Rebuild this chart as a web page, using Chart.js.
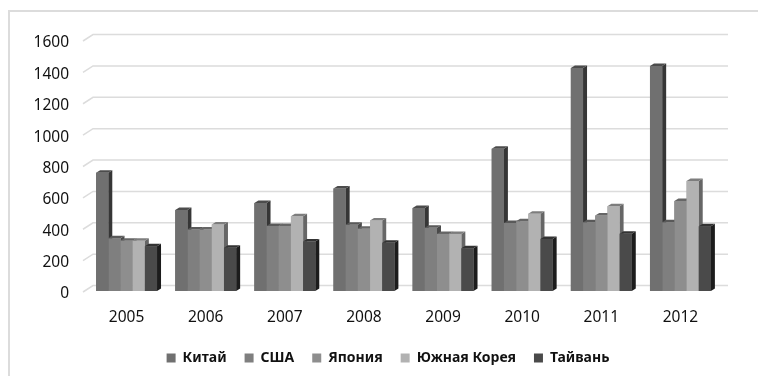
<!DOCTYPE html>
<html>
<head>
<meta charset="utf-8">
<script src="https://cdn.jsdelivr.net/npm/chart.js@4"></script>
<style>
  html, body { margin: 0; padding: 0; background: #fff; overflow: hidden; }
  #frame { position: absolute; left: 8px; top: 10px; right: 0; bottom: 0; border-left: 2px solid #dcdcdc; border-top: 2px solid #dcdcdc; }
  #box { position: absolute; left: 0; top: 0; width: 758px; height: 376px; }
</style>
</head>
<body>
<div id="frame"></div>
<div id="box"><canvas id="c" width="758" height="376"></canvas></div>
<script>
const years = ['2005', '2006', '2007', '2008', '2009', '2010', '2011', '2012'];
const china = [754, 516, 561, 654, 529, 907, 1421, 1434];
const usa = [336, 392, 414, 422, 403, 433, 439, 439];
const japan = [321, 392, 414, 397, 364, 444, 482, 574];
const korea = [321, 424, 476, 450, 364, 493, 540, 701];
const taiwan = [285, 276, 315, 307, 272, 332, 365, 412];

const seriesNames = ['Китай', 'США', 'Япония', 'Южная Корея', 'Тайвань'];
const seriesValues = [china, usa, japan, korea, taiwan];
const frontColors = ['#707070', '#7f7f7f', '#8e8e8e', '#b2b2b2', '#4a4a4a'];
const topColors = ['#4c4c4c', '#595959', '#666666', '#7d7d7d', '#333333'];
const sideColors = ['#363636', '#4a4a4a', '#555555', '#666666', '#1c1c1c'];

// depth of a bar and of the back wall, in px
const barDx = 4, barDy = 2.5;
const wallDx = 10, wallDy = 6.5;

function poly(ctx, pts, color) {
    ctx.fillStyle = color;
    ctx.beginPath();
    pts.forEach((p, i) => i ? ctx.lineTo(p[0], p[1]) : ctx.moveTo(p[0], p[1]));
    ctx.closePath();
    ctx.fill();
}

// slanted floor ticks and the gridlines on the back wall
const wallGrid = {
    id: 'wallGrid',
    beforeDatasetsDraw(chart) {
        const { ctx, scales } = chart;
        const y = scales.y;
        ctx.save();
        ctx.strokeStyle = '#dcdcdc';
        ctx.lineWidth = 1.5;
        y.ticks.forEach(t => {
            const py = y.getPixelForValue(t.value) + 1;
            ctx.beginPath();
            ctx.moveTo(83, py);
            ctx.lineTo(83 + wallDx, py - wallDy);
            ctx.lineTo(728, py - wallDy);
            ctx.stroke();
        });
        ctx.restore();
    },
    afterLayout(chart) {
        // legend sits a little right of the canvas centre
        chart.legend.left += 28;
        chart.legend.right += 28;
    }
};

// extruded sides and tops; each front is repainted so the next bar covers the previous side
const bars3d = {
    id: 'bars3d',
    afterDatasetsDraw(chart) {
        const ctx = chart.ctx;
        years.forEach((yr, j) => {
            seriesValues.forEach((vals, i) => {
                const bar = chart.getDatasetMeta(i).data[j];
                const l = bar.x - bar.width / 2, r = bar.x + bar.width / 2;
                const t = bar.y, b = bar.base;
                poly(ctx, [[r, t], [r + barDx, t - barDy], [r + barDx, b - barDy], [r, b]], sideColors[i]);
                poly(ctx, [[l, t], [l + barDx, t - barDy], [r + barDx, t - barDy], [r, t]], topColors[i]);
                bar.draw(ctx);
            });
        });
    }
};

new Chart(document.getElementById('c'), {
    type: 'bar',
    data: {
        labels: years,
        datasets: seriesNames.map((name, i) => ({
            label: name,
            data: seriesValues[i],
            backgroundColor: frontColors[i],
            borderWidth: 0,
            barPercentage: 1,
            categoryPercentage: 0.77
        }))
    },
    options: {
        responsive: false,
        animation: false,
        layout: { padding: { left: 0, right: 38, top: 40, bottom: 1 } },
        plugins: {
            tooltip: { enabled: false },
            legend: {
                position: 'bottom',
                labels: {
                    boxWidth: 9,
                    boxHeight: 9,
                    padding: 18,
                    color: '#111',
                    font: { family: '"Noto Sans"', size: 14, weight: 'bold' }
                }
            }
        },
        scales: {
            x: {
                grid: { display: false },
                border: { display: false },
                ticks: { color: '#111', padding: 9, maxRotation: 0, font: { family: '"Noto Sans"', size: 15.5 } },
                afterFit(s) { s.height = 42; }
            },
            y: {
                min: 0,
                max: 1600,
                grid: { display: false },
                border: { display: false },
                ticks: { stepSize: 200, color: '#111', padding: 10, labelOffset: 3, callback: v => String(v), font: { family: '"Noto Sans"', size: 15.5 } },
                afterFit(s) { s.width = 87; }
            }
        }
    },
    plugins: [wallGrid, bars3d]
});
</script>
</body>
</html>
